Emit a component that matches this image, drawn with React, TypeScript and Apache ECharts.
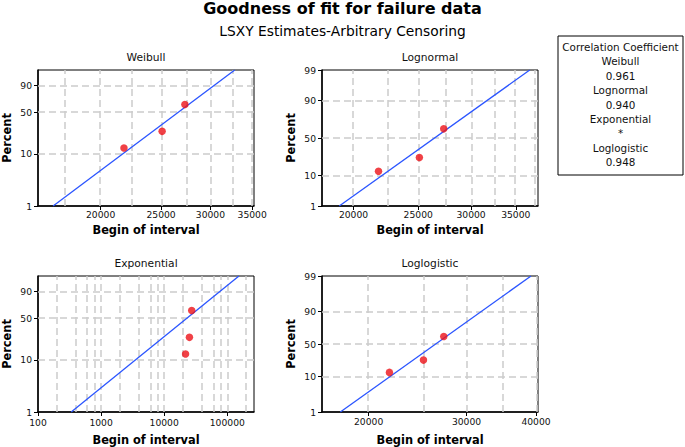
import React, { useEffect, useRef } from 'react';
import * as echarts from 'echarts';

// ---- data ----
const failureTimes = [21800, 25100, 27300];
const failurePercents = [12.8, 25.2, 62.3];

const weibullFit = [[16780, 1], [32820, 99]];
const lognormalFit = [[19040, 1], [36730, 99]];
const exponentialFit = [[336, 1], [153000, 99]];
const loglogisticFit = [[17790, 1], [39180, 99]];

const weibullXRange = [15870, 35240];
const lognormalXRange = [17940, 37790];
const exponentialXRange = [100, 265000];
const loglogisticXRange = [16490, 40330];
const percentRange = [1, 99];

const percentTicksShort = [1, 10, 50, 90];
const percentTicksFull = [1, 10, 50, 90, 99];
const percentGridLines = [10, 50, 90];

const weibullXTicks = [20000, 25000, 30000, 35000];
const weibullXGrid = [17500, 20000, 22500, 25000, 27500, 30000, 32500, 35000];
const lognormalXTicks = [20000, 25000, 30000, 35000];
const lognormalXGrid = [20000, 22500, 25000, 27500, 30000, 32500, 35000, 37500];
const exponentialXTicks = [100, 1000, 10000, 100000];
const exponentialXGrid = [200, 400, 600, 800, 1000, 2000, 4000, 6000, 8000, 10000, 20000, 40000, 60000, 80000, 100000, 200000];
const loglogisticXTicks = [20000, 30000, 40000];
const loglogisticXGrid = [20000, 25000, 30000, 35000, 40000];

const correlationNames = ['Weibull', 'Lognormal', 'Exponential', 'Loglogistic'];
const correlationValues = ['0.961', '0.940', '*', '0.948'];

// ---- probability-paper transforms ----
function probit(p: number): number {
  const a = [-3.969683028665376e1, 2.209460984245205e2, -2.759285104469687e2, 1.38357751867269e2, -3.066479806614716e1, 2.506628277459239];
  const b = [-5.447609879822406e1, 1.615858368580409e2, -1.556989798598866e2, 6.680131188771972e1, -1.328068155288572e1];
  const c = [-7.784894002430293e-3, -3.223964580411365e-1, -2.400758277161838, -2.549671010002288, 4.374664141464968, 2.938163982698783];
  const d = [7.784695709041462e-3, 3.224671290700398e-1, 2.445134137142996, 3.754408661907416];
  const pl = 0.02425;
  if (p < pl) {
    const q = Math.sqrt(-2 * Math.log(p));
    return (((((c[0] * q + c[1]) * q + c[2]) * q + c[3]) * q + c[4]) * q + c[5]) / ((((d[0] * q + d[1]) * q + d[2]) * q + d[3]) * q + 1);
  }
  if (p <= 1 - pl) {
    const q = p - 0.5;
    const r = q * q;
    return ((((((a[0] * r + a[1]) * r + a[2]) * r + a[3]) * r + a[4]) * r + a[5]) * q) / (((((b[0] * r + b[1]) * r + b[2]) * r + b[3]) * r + b[4]) * r + 1);
  }
  const q = Math.sqrt(-2 * Math.log(1 - p));
  return -(((((c[0] * q + c[1]) * q + c[2]) * q + c[3]) * q + c[4]) * q + c[5]) / ((((d[0] * q + d[1]) * q + d[2]) * q + d[3]) * q + 1);
}
const weibullY = (pct: number) => Math.log(-Math.log(1 - pct / 100));
const normalY = (pct: number) => probit(pct / 100);
const logisticY = (pct: number) => Math.log(pct / (100 - pct));
const lnX = (v: number) => Math.log(v);
const log10X = (v: number) => Math.log10(v);

const FONT = 'DejaVu Sans';

type Panel = {
  title: string;
  left: number;
  top: number;
  fx: (v: number) => number;
  fy: (v: number) => number;
  xRange: number[];
  xTicks: number[];
  xGrid: number[];
  yTicks: number[];
  fit: number[][];
  xNameGap: number;
  xLabelMargin: number;
};

const panels: Panel[] = [
  { title: 'Weibull', left: 38, top: 70, fx: lnX, fy: weibullY, xRange: weibullXRange, xTicks: weibullXTicks, xGrid: weibullXGrid, yTicks: percentTicksShort, fit: weibullFit, xNameGap: 18, xLabelMargin: 4 },
  { title: 'Lognormal', left: 322, top: 70, fx: lnX, fy: normalY, xRange: lognormalXRange, xTicks: lognormalXTicks, xGrid: lognormalXGrid, yTicks: percentTicksFull, fit: lognormalFit, xNameGap: 18, xLabelMargin: 4 },
  { title: 'Exponential', left: 38, top: 276, fx: log10X, fy: weibullY, xRange: exponentialXRange, xTicks: exponentialXTicks, xGrid: exponentialXGrid, yTicks: percentTicksShort, fit: exponentialFit, xNameGap: 22, xLabelMargin: 6 },
  { title: 'Loglogistic', left: 322, top: 276, fx: lnX, fy: logisticY, xRange: loglogisticXRange, xTicks: loglogisticXTicks, xGrid: loglogisticXGrid, yTicks: percentTicksFull, fit: loglogisticFit, xNameGap: 22, xLabelMargin: 5 },
];

const GW = 216;
const GH = 136;

function nearestLabel(list: number[], f: (v: number) => number) {
  return (v: number) => {
    let best = list[0];
    for (const t of list) if (Math.abs(f(t) - v) < Math.abs(f(best) - v)) best = t;
    return String(best);
  };
}

function buildOption() {
  const grid: any[] = [];
  const xAxis: any[] = [];
  const yAxis: any[] = [];
  const series: any[] = [];
  const graphic: any[] = [];

  panels.forEach((p, i) => {
    grid.push({ left: p.left, top: p.top, width: GW, height: GH, show: true, borderColor: '#000', borderWidth: 1, backgroundColor: 'transparent' });
    xAxis.push({
      type: 'value', gridIndex: i, position: 'bottom',
      min: p.fx(p.xRange[0]), max: p.fx(p.xRange[1]),
      axisLine: { show: true, onZero: false, lineStyle: { color: '#000', width: 1.5 } },
      axisTick: { show: true, customValues: p.xTicks.map(p.fx), length: 4, lineStyle: { color: '#000' } },
      axisLabel: { customValues: p.xTicks.map(p.fx), formatter: nearestLabel(p.xTicks, p.fx), fontFamily: FONT, fontSize: 9.2, color: '#111', margin: p.xLabelMargin },
      splitLine: { show: false },
      name: 'Begin of interval', nameLocation: 'middle', nameGap: p.xNameGap,
      nameTextStyle: { fontFamily: FONT, fontWeight: 'bold', fontSize: 11.4, color: '#000' },
    });
    yAxis.push({
      type: 'value', gridIndex: i, position: 'left',
      min: p.fy(percentRange[0]), max: p.fy(percentRange[1]),
      axisLine: { show: true, onZero: false, lineStyle: { color: '#000', width: 1.5 } },
      axisTick: { show: true, customValues: p.yTicks.map(p.fy), length: 4, lineStyle: { color: '#000' } },
      axisLabel: { customValues: p.yTicks.map(p.fy), formatter: nearestLabel(p.yTicks, p.fy), fontFamily: FONT, fontSize: 9.2, color: '#111', margin: 6 },
      splitLine: { show: false },
      name: 'Percent', nameLocation: 'middle', nameGap: 26, nameRotate: 90,
      nameTextStyle: { fontFamily: FONT, fontWeight: 'bold', fontSize: 11.4, color: '#000' },
    });
    series.push({
      type: 'line', xAxisIndex: i, yAxisIndex: i, z: 3,
      data: p.fit.map(([x, y]) => [p.fx(x), p.fy(y)]),
      showSymbol: false, symbol: 'none', clip: true,
      lineStyle: { color: '#2b55ff', width: 1.3 },
      silent: true,
      markLine: {
        silent: true, symbol: 'none', z: 1,
        label: { show: false },
        lineStyle: { color: '#cbcbcb', type: [7, 4], width: 1.5 },
        emphasis: { disabled: true },
        data: [
          ...p.xGrid.map((v) => ({ xAxis: p.fx(v) })),
          ...percentGridLines.map((v) => ({ yAxis: p.fy(v) })),
        ],
      },
    });
    series.push({
      type: 'scatter', xAxisIndex: i, yAxisIndex: i, z: 4,
      data: failureTimes.map((t, k) => [p.fx(t), p.fy(failurePercents[k])]),
      symbolSize: 7.5,
      itemStyle: { color: '#ec1218' },
      silent: true,
    });
    graphic.push({
      type: 'text', x: p.left + GW / 2, y: p.top - 13,
      style: { text: p.title, textAlign: 'center', textVerticalAlign: 'middle', font: `10.7px "${FONT}"`, fill: '#111' },
    });
  });

  // correlation box
  const boxX = 558, boxY = 36, boxW = 125, boxH = 139;
  graphic.push({ type: 'rect', shape: { x: boxX, y: boxY, width: boxW, height: boxH }, style: { fill: '#fff', stroke: '#000', lineWidth: 1 } });
  const lines = ['Correlation Coefficient'];
  correlationNames.forEach((n, k) => { lines.push(n); lines.push(correlationValues[k]); });
  lines.forEach((t, k) => {
    graphic.push({
      type: 'text', x: boxX + boxW / 2, y: 47 + k * 14.4,
      style: { text: t, textAlign: 'center', textVerticalAlign: 'middle', font: `10.4px "${FONT}"`, fill: '#111' },
    });
  });

  return {
    animation: false,
    backgroundColor: '#fff',
    title: [
      { text: 'Goodness of fit for failure data', left: 'center', top: 0, padding: 0, textStyle: { fontFamily: FONT, fontWeight: 'bold', fontSize: 16, color: '#000' } },
      { text: 'LSXY Estimates-Arbitrary Censoring', left: 'center', top: 24, padding: 0, textStyle: { fontFamily: FONT, fontWeight: 'normal', fontSize: 13.8, color: '#000' } },
    ],
    grid, xAxis, yAxis, series, graphic,
  };
}

export default function App() {
  const ref = useRef<HTMLDivElement>(null);
  useEffect(() => {
    if (!ref.current) return;
    const chart = echarts.init(ref.current, undefined, { renderer: 'svg' });
    chart.setOption(buildOption() as any);
    return () => chart.dispose();
  }, []);
  return <div ref={ref} style={{ position: 'fixed', left: 0, top: 0, width: 685, height: 447 }} />;
}
